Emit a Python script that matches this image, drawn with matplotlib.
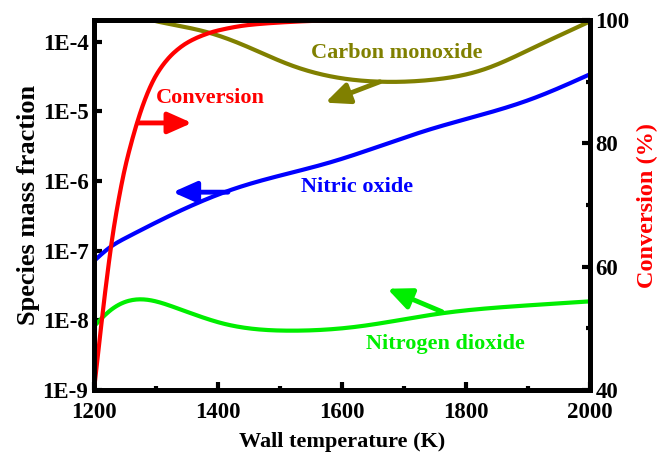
import matplotlib
matplotlib.use("Agg")
import matplotlib.pyplot as plt
import numpy as np

plt.rcParams['font.family'] = ['Liberation Serif', 'DejaVu Serif']
plt.rcParams['font.weight'] = 'bold'

# Conversion (%) vs wall temperature (right axis)
conv_T = [1200, 1210, 1220, 1230, 1240, 1250, 1260, 1270, 1280, 1290, 1300, 1315, 1330, 1350, 1375,
          1400, 1450, 1500, 1550, 1600, 2000]
conv_val = [40, 49, 57.5, 65, 71, 76, 80, 83.5, 86.5, 89, 91, 93.2, 94.8, 96.3, 97.5,
            98.3, 99.2, 99.6, 99.85, 100, 100]

# Carbon monoxide mass fraction
co_T = [1200, 1250, 1306, 1387, 1452, 1516, 1585, 1666, 1747, 1827, 1908, 2000]
co_val = [3.2e-4, 2.5e-4, 1.91e-4, 1.33e-4, 8.1e-5, 4.64e-5, 3.13e-5, 2.65e-5, 2.84e-5, 3.94e-5, 8.1e-5, 1.95e-4]

# Nitric oxide mass fraction
no_T = [1200, 1226, 1253, 1279, 1424, 1581, 1742, 1903, 2000]
no_val = [7.1e-8, 1.12e-7, 1.55e-7, 2.04e-7, 7.6e-7, 1.85e-6, 5.5e-6, 1.47e-5, 3.4e-5]

# Nitrogen dioxide mass fraction
no2_T = [1200, 1226, 1274, 1327, 1408, 1516, 1624, 1758, 1892, 2000]
no2_val = [8.2e-9, 1.38e-8, 2.0e-8, 1.57e-8, 9.0e-9, 7.1e-9, 8.1e-9, 1.25e-8, 1.62e-8, 1.87e-8]

xticks = [1200, 1400, 1600, 1800, 2000]
yticks = [1e-9, 1e-8, 1e-7, 1e-6, 1e-5, 1e-4]
ytick_labels = ['1E-9', '1E-8', '1E-7', '1E-6', '1E-5', '1E-4']
rticks = [40, 60, 80, 100]


def spline(xs, ys, log=False, n=400):
    """Natural cubic spline through the read points."""
    xs = np.asarray(xs, float)
    ys = np.asarray(ys, float)
    if log:
        ys = np.log10(ys)
    k = len(xs)
    h = np.diff(xs)
    A = np.zeros((k, k))
    r = np.zeros(k)
    A[0, 0] = A[-1, -1] = 1
    for i in range(1, k - 1):
        A[i, i - 1] = h[i - 1]
        A[i, i] = 2 * (h[i - 1] + h[i])
        A[i, i + 1] = h[i]
        r[i] = 3 * ((ys[i + 1] - ys[i]) / h[i] - (ys[i] - ys[i - 1]) / h[i - 1])
    c = np.linalg.solve(A, r)
    b = (ys[1:] - ys[:-1]) / h - h * (2 * c[:-1] + c[1:]) / 3
    d = (c[1:] - c[:-1]) / (3 * h)
    xn = np.linspace(xs[0], xs[-1], n)
    idx = np.clip(np.searchsorted(xs, xn) - 1, 0, k - 2)
    t = xn - xs[idx]
    yn = ys[idx] + b[idx] * t + c[idx] * t**2 + d[idx] * t**3
    if log:
        yn = 10 ** yn
    return xn, yn


def pchip(xs, ys, n=400):
    xs = np.asarray(xs, float)
    ys = np.asarray(ys, float)
    h = np.diff(xs)
    d = np.diff(ys) / h
    m = np.zeros_like(ys)
    m[0], m[-1] = d[0], d[-1]
    for i in range(1, len(ys) - 1):
        if d[i - 1] * d[i] <= 0:
            m[i] = 0
        else:
            w1 = 2 * h[i] + h[i - 1]
            w2 = h[i] + 2 * h[i - 1]
            m[i] = (w1 + w2) / (w1 / d[i - 1] + w2 / d[i])
    xn = np.linspace(xs[0], xs[-1], n)
    idx = np.clip(np.searchsorted(xs, xn) - 1, 0, len(xs) - 2)
    t = (xn - xs[idx]) / h[idx]
    h00 = 2 * t**3 - 3 * t**2 + 1
    h10 = t**3 - 2 * t**2 + t
    h01 = -2 * t**3 + 3 * t**2
    h11 = t**3 - t**2
    yn = h00 * ys[idx] + h10 * h[idx] * m[idx] + h01 * ys[idx + 1] + h11 * h[idx] * m[idx + 1]
    return xn, yn


fig = plt.figure(figsize=(6.6, 4.58), dpi=100)
ax = fig.add_axes([0.1424, 0.1485, 0.894 - 0.1424, 0.9563 - 0.1485])
ax2 = ax.twinx()

lw = 3.0
x, y = spline(co_T, co_val, log=True)
ax.plot(x, y, color='#808000', lw=lw)
x, y = spline(no_T, no_val, log=True)
ax.plot(x, y, color='#0000ff', lw=lw)
x, y = spline(no2_T, no2_val, log=True)
ax.plot(x, y, color='#00ee00', lw=lw)
x, y = pchip(conv_T, conv_val)
ax2.plot(x, y, color='#ff0000', lw=lw)

ax.set_yscale('log')
ax.set_xlim(1200, 2000)
ax.set_ylim(1e-9, 2.04e-4)
ax2.set_ylim(40, 100)

ax.set_xticks(xticks)
ax.set_xticks([1300, 1500, 1700, 1900], minor=True)
ax.set_yticks(yticks)
ax.set_yticklabels(ytick_labels)
ax.yaxis.set_minor_locator(matplotlib.ticker.NullLocator())
ax2.set_yticks(rticks)
ax2.set_yticks([50, 70, 90], minor=True)

fs = 16.5
ax.tick_params(axis='both', which='major', direction='in', length=6, width=3, labelsize=fs, pad=4)
ax.tick_params(axis='x', which='major', pad=9)
ax.tick_params(axis='both', which='minor', direction='in', length=3, width=3)
ax.tick_params(axis='y', which='both', right=False)
ax2.tick_params(axis='y', which='major', direction='in', length=6, width=3, labelsize=fs, pad=4)
ax2.tick_params(axis='y', which='minor', direction='in', length=3, width=3)
for a in (ax, ax2):
    for s in a.spines.values():
        s.set_linewidth(3.5)
for lab in ax.get_xticklabels() + ax.get_yticklabels() + ax2.get_yticklabels():
    lab.set_fontweight('bold')

ax.set_xlabel('Wall temperature (K)', fontsize=16, fontweight='bold', labelpad=6)
ax.set_ylabel('Species mass fraction', fontsize=19, fontweight='bold', labelpad=2)
ax2.set_ylabel('Conversion (%)', fontsize=17.5, fontweight='bold', color='#ff0000', labelpad=5)

ap = dict(arrowstyle='-|>,head_length=0.9,head_width=0.4', lw=3.5, shrinkA=0, shrinkB=0,
          mutation_scale=16)
afs = 16

ax.annotate('', xy=(1358, 6.8e-6), xytext=(1271, 6.8e-6),
            arrowprops=dict(ap, color='#ff0000'))
ax.text(1387, 1.57e-5, 'Conversion', color='#ff0000', fontsize=afs, fontweight='bold', ha='center', va='center')

ax.annotate('', xy=(1573, 1.33e-5), xytext=(1661, 2.65e-5),
            arrowprops=dict(ap, color='#808000'))
ax.text(1689, 6.9e-5, 'Carbon monoxide', color='#808000', fontsize=afs, fontweight='bold', ha='center', va='center')

ax.annotate('', xy=(1327, 6.9e-7), xytext=(1416, 6.9e-7),
            arrowprops=dict(ap, color='#0000ff'))
ax.text(1624, 8.1e-7, 'Nitric oxide', color='#0000ff', fontsize=afs, fontweight='bold', ha='center', va='center')

ax.annotate('', xy=(1673, 2.84e-8), xytext=(1761, 1.33e-8),
            arrowprops=dict(ap, color='#00ee00'))
ax.text(1766, 4.6e-9, 'Nitrogen dioxide', color='#00ee00', fontsize=afs, fontweight='bold', ha='center', va='center')

fig.savefig('out.png', dpi=100)
